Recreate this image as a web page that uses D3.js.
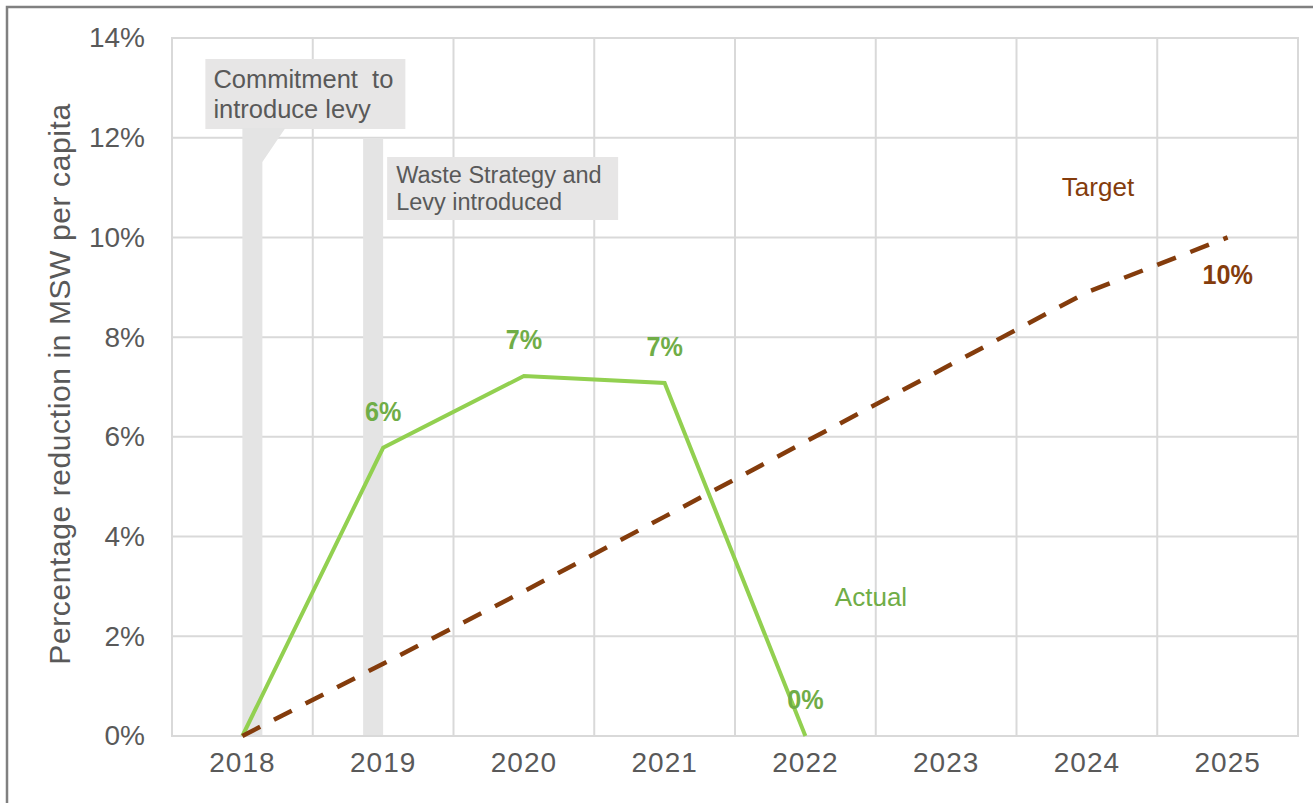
<!DOCTYPE html>
<html>
<head>
<meta charset="utf-8">
<script src="https://cdn.jsdelivr.net/npm/d3@7"></script>
<style>
  html, body { margin: 0; padding: 0; background: #fff; }
  svg { display: block; }
  text { font-family: "Liberation Sans", Arial, sans-serif; }
</style>
</head>
<body>
<svg id="chart" width="1313" height="803"></svg>
<script>
// Categories and series values (fractions of 1)
const years = ["2018", "2019", "2020", "2021", "2022", "2023", "2024", "2025"];
const actualYears = ["2018", "2019", "2020", "2021", "2022"];
const actualValues = [0, 0.0578, 0.0722, 0.0708, 0];
const targetValues = [0, 0.0145, 0.029, 0.044, 0.059, 0.074, 0.089, 0.10];
const yTicks = [0, 0.02, 0.04, 0.06, 0.08, 0.10, 0.12, 0.14];
const seriesNames = ["Actual", "Target"];
const yTitle = "Percentage reduction in MSW per capita";
const eventYears = ["2018", "2019"];
const eventLabels = [["Commitment  to", "introduce levy"], ["Waste Strategy and", "Levy introduced"]];

const svg = d3.select("#chart");
const plot = { left: 172, right: 1298, top: 38, bottom: 736 };

const x = d3.scaleBand().domain(years).range([plot.left, plot.right]).padding(0);
const cx = d => x(d) + x.bandwidth() / 2;
const y = d3.scaleLinear().domain([0, 0.14]).range([plot.bottom, plot.top]);
const pct = d3.format(".0%");

const grey = "#595959";
const gridColor = "#d9d9d9";
const green = "#92d050";
const greenText = "#70ad47";
const brown = "#843c0c";

// Outer chart frame
svg.append("rect")
  .attr("x", 7).attr("y", 7).attr("width", 1400).attr("height", 900)
  .attr("fill", "none").attr("stroke", "#808080").attr("stroke-width", 2.5);

// Horizontal gridlines
svg.append("g")
  .selectAll("line").data(yTicks).join("line")
  .attr("x1", plot.left).attr("x2", plot.right)
  .attr("y1", d => y(d)).attr("y2", d => y(d))
  .attr("stroke", gridColor).attr("stroke-width", 2);

// Vertical gridlines at category boundaries
const bounds = years.map(d => x(d)).concat([plot.right]);
svg.append("g")
  .selectAll("line").data(bounds).join("line")
  .attr("x1", d => d).attr("x2", d => d)
  .attr("y1", plot.top).attr("y2", plot.bottom)
  .attr("stroke", gridColor).attr("stroke-width", 2);

// Event markers: callout 1 (box with pointer running down into a bar)
const ev = svg.append("g").attr("fill", "#e4e4e4");
const c1 = cx(eventYears[0]);
ev.append("rect").attr("x", c1 - 37).attr("y", 59).attr("width", 200).attr("height", 70).attr("fill", "#e7e6e6");
ev.append("path").attr("d", d3.line()([
  [c1, 128], [c1 + 43, 128], [c1 + 20, 162], [c1 + 20, y(0)], [c1, y(0)]
]) + "Z");
// Event 2: bar plus box
const c2 = cx(eventYears[1]);
ev.append("rect").attr("x", c2 - 20).attr("y", 138).attr("width", 20).attr("height", y(0) - 138);
ev.append("rect").attr("x", c2 + 4).attr("y", 157).attr("width", 231).attr("height", 63).attr("fill", "#e7e6e6");

const t1 = svg.append("text").attr("fill", grey).attr("font-size", 25.5).style("white-space", "pre");
eventLabels[0].forEach((s, i) => t1.append("tspan").attr("x", c1 - 29).attr("y", 88 + i * 30).text(s));
const t2 = svg.append("text").attr("fill", grey).attr("font-size", 23.5).style("white-space", "pre");
eventLabels[1].forEach((s, i) => t2.append("tspan").attr("x", c2 + 13).attr("y", 183 + i * 27).text(s));

// Plot area border
svg.append("rect")
  .attr("x", plot.left).attr("y", plot.top)
  .attr("width", plot.right - plot.left).attr("height", plot.bottom - plot.top)
  .attr("fill", "none").attr("stroke", gridColor).attr("stroke-width", 2);

// Axes
const yAxis = svg.append("g")
  .attr("transform", `translate(${plot.left},0)`)
  .call(d3.axisLeft(y).tickValues(yTicks).tickFormat(pct).tickSize(0).tickPadding(27));
yAxis.select(".domain").remove();
yAxis.selectAll("text")
  .attr("fill", grey).attr("font-size", 28)
  .attr("font-family", "Liberation Sans, Arial, sans-serif");

const xAxis = svg.append("g")
  .attr("transform", `translate(0,${plot.bottom})`)
  .call(d3.axisBottom(x).tickSize(0).tickPadding(16));
xAxis.select(".domain").remove();
xAxis.selectAll("text")
  .attr("fill", grey).attr("font-size", 28).attr("letter-spacing", 1)
  .attr("font-family", "Liberation Sans, Arial, sans-serif");

// Y axis title
svg.append("text")
  .attr("transform", "translate(70,384) rotate(-90)")
  .attr("text-anchor", "middle")
  .attr("fill", grey).attr("font-size", 30).attr("letter-spacing", 0.6)
  .text(yTitle);

// Series lines
const actualPts = actualYears.map((d, i) => [cx(d), y(actualValues[i])]);
const targetPts = years.map((d, i) => [cx(d), y(targetValues[i])]);

svg.append("path")
  .attr("d", d3.line()(actualPts))
  .attr("fill", "none").attr("stroke", green).attr("stroke-width", 4)
  .attr("stroke-linejoin", "miter");

svg.append("path")
  .attr("d", d3.line()(targetPts))
  .attr("fill", "none").attr("stroke", brown).attr("stroke-width", 4.5)
  .attr("stroke-dasharray", "20,15.5");

// Condensed bold label helper
function label(g, px, py, txt, color) {
  g.append("text")
    .attr("transform", `translate(${px},${py}) scale(0.9,1)`)
    .attr("text-anchor", "middle").attr("dominant-baseline", "central")
    .attr("fill", color).attr("font-weight", "bold").attr("font-size", 28)
    .text(txt);
}

// Data labels on Actual (all but the starting point)
const labels = svg.append("g");
actualYears.slice(1).forEach((d, i) => {
  const v = actualValues[i + 1];
  label(labels, cx(d), y(v) - 36, pct(v), greenText);
});

// Data label on final Target point
const lastYear = years[years.length - 1];
const lastTarget = targetValues[targetValues.length - 1];
label(labels, cx(lastYear), y(lastTarget) + 37, pct(lastTarget), brown);

// Series name labels
svg.append("text")
  .attr("x", 871).attr("y", 597)
  .attr("text-anchor", "middle").attr("dominant-baseline", "central")
  .attr("fill", greenText).attr("font-size", 26)
  .text(seriesNames[0]);
svg.append("text")
  .attr("x", 1098).attr("y", 187)
  .attr("text-anchor", "middle").attr("dominant-baseline", "central")
  .attr("fill", brown).attr("font-size", 26)
  .text(seriesNames[1]);
</script>
</body>
</html>
